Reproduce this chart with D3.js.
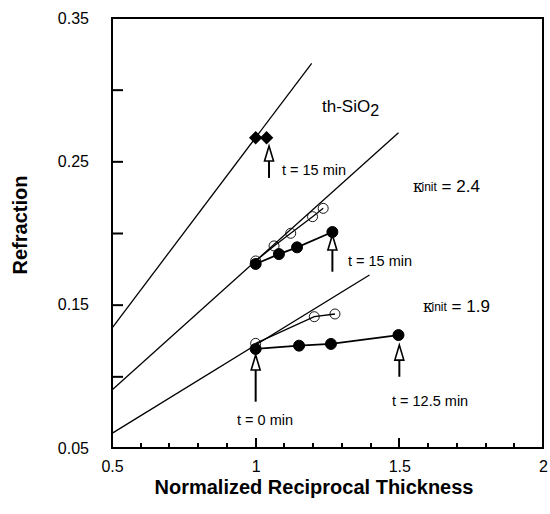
<!DOCTYPE html>
<html>
<head>
<meta charset="utf-8">
<script src="https://cdn.jsdelivr.net/npm/d3@7"></script>
<style>
  body { margin: 0; background: #fff; }
  svg { font-family: "Liberation Sans", Arial, sans-serif; }
</style>
</head>
<body>
<svg id="chart" width="550" height="514"></svg>
<script>
// fitted lines (endpoints)
const fitX = [[0.5, 1.195], [0.5, 1.497], [0.5, 1.396]];
const fitY = [[0.1337, 0.3184], [0.0905, 0.2700], [0.0602, 0.1707]];

// th-SiO2 diamonds
const diamondX = [1.0, 1.038];
const diamondY = [0.2665, 0.2665];

// kinit = 2.4
const midFilledX = [1.0, 1.081, 1.144, 1.267];
const midFilledY = [0.1784, 0.1853, 0.1900, 0.2007];
const midOpenX = [1.0, 1.064, 1.122, 1.198, 1.235];
const midOpenY = [0.1805, 0.1910, 0.1998, 0.2114, 0.2172];

// kinit = 1.9
const lowFilledX = [1.0, 1.151, 1.262, 1.497];
const lowFilledY = [0.1191, 0.1214, 0.1226, 0.1288];
const lowOpenX = [1.0, 1.204, 1.276];
const lowOpenY = [0.1230, 0.1416, 0.1435];

// arrows: x, tip y, tail y
const arrowX = [1.0465, 1.267, 1.0, 1.5];
const arrowTip = [0.2607, 0.1986, 0.1149, 0.1218];
const arrowTail = [0.2384, 0.1730, 0.0823, 0.0997];

const xTicks = [0.5, 1, 1.5, 2];
const xMinor = [0.6, 0.7, 0.8, 0.9, 1, 1.1, 1.2, 1.3, 1.4, 1.5, 1.6, 1.7, 1.8, 1.9];
const yTicks = [0.05, 0.15, 0.25, 0.35];
const yMinor = [0.1, 0.15, 0.2, 0.25, 0.3];

const svg = d3.select('#chart');
const pLeft = 112, pTop = 18, pRight = 543, pBottom = 448;

const x = d3.scaleLinear().domain([0.5, 2]).range([pLeft, pRight]);
const y = d3.scaleLinear().domain([0.05, 0.35]).range([pBottom, pTop]);

// frame
svg.append('rect')
    .attr('x', pLeft).attr('y', pTop)
    .attr('width', pRight - pLeft).attr('height', pBottom - pTop)
    .attr('fill', 'none').attr('stroke', '#000').attr('stroke-width', 2);

// x ticks pointing inward, longer at 1 and 1.5
const xt = d3.path();
xMinor.forEach(d => {
    const len = (Math.abs(d - 1) < 1e-6 || Math.abs(d - 1.5) < 1e-6) ? 10 : 5;
    xt.moveTo(Math.round(x(d)), pBottom);
    xt.lineTo(Math.round(x(d)), pBottom - len);
});
svg.append('path')
    .attr('d', xt.toString())
    .attr('fill', 'none')
    .attr('stroke', '#000')
    .attr('stroke-width', 2);

svg.append('g')
    .attr('transform', `translate(0,${pBottom + 21})`)
    .call(d3.axisBottom(x).tickValues(xTicks).tickSize(0).tickFormat(d3.format('')))
    .call(g => g.select('.domain').remove())
    .call(g => g.selectAll('text').attr('font-size', 16).attr('font-family', 'Liberation Sans, Arial, sans-serif').attr('fill', '#000').attr('dy', 0));

// y ticks pointing inward
svg.append('g')
    .attr('transform', `translate(${pLeft},0)`)
    .call(d3.axisLeft(y).tickValues(yMinor).tickSize(-11).tickFormat(''))
    .call(g => g.select('.domain').remove())
    .call(g => g.selectAll('line').attr('stroke-width', 2));

svg.append('g')
    .attr('transform', `translate(${pLeft - 23},0)`)
    .call(d3.axisLeft(y).tickValues(yTicks).tickSize(0).tickFormat(d3.format('.2f')))
    .call(g => g.select('.domain').remove())
    .call(g => g.selectAll('text').attr('font-size', 16).attr('font-family', 'Liberation Sans, Arial, sans-serif').attr('fill', '#000').attr('x', 0));

// axis titles
svg.append('text')
    .attr('x', 314).attr('y', 494)
    .attr('text-anchor', 'middle')
    .attr('font-size', 20).attr('font-weight', 'bold')
    .text('Normalized Reciprocal Thickness');

svg.append('text')
    .attr('transform', 'translate(27,225) rotate(-90)')
    .attr('text-anchor', 'middle')
    .attr('font-size', 20).attr('font-weight', 'bold')
    .text('Refraction');

// fit lines
const line = d3.line().x(d => x(d[0])).y(d => y(d[1]));
fitX.forEach((xs, i) => {
    svg.append('path')
        .attr('d', line(xs.map((v, j) => [v, fitY[i][j]])))
        .attr('fill', 'none').attr('stroke', '#000').attr('stroke-width', 1.3);
});

function series(xs, ys, open) {
    const pts = xs.map((v, i) => [v, ys[i]]);
    svg.append('path')
        .attr('d', line(pts))
        .attr('fill', 'none').attr('stroke', '#000')
        .attr('stroke-width', open ? 1.3 : 1.8);
    svg.selectAll(null).data(pts).enter().append('circle')
        .attr('cx', d => x(d[0])).attr('cy', d => y(d[1]))
        .attr('r', open ? 5 : 5.5)
        .attr('fill', open ? 'none' : '#000')
        .attr('stroke', '#000').attr('stroke-width', open ? 0.9 : 1);
}
series(midOpenX, midOpenY, true);
series(midFilledX, midFilledY, false);
series(lowOpenX, lowOpenY, true);
series(lowFilledX, lowFilledY, false);

// diamonds
svg.selectAll(null).data(diamondX).enter().append('path')
    .attr('d', d3.symbol().type(d3.symbolSquare).size(90))
    .attr('transform', (d, i) => `translate(${x(d)},${y(diamondY[i])}) rotate(45)`)
    .attr('fill', '#000');

// arrows with hollow heads
arrowX.forEach((ax, i) => {
    const px = x(ax), tip = y(arrowTip[i]), tail = y(arrowTail[i]);
    const headH = 15, headW = 4.5;
    svg.append('line')
        .attr('x1', px).attr('x2', px)
        .attr('y1', tip + headH).attr('y2', tail)
        .attr('stroke', '#000').attr('stroke-width', 2);
    svg.append('path')
        .attr('d', `M${px},${tip} L${px - headW},${tip + headH} L${px + headW},${tip + headH} Z`)
        .attr('fill', '#fff').attr('stroke', '#000').attr('stroke-width', 1.6);
});

// annotations
const note = (px, py, txt) => svg.append('text')
    .attr('x', px).attr('y', py).attr('font-size', 14.5).text(txt);
note(282, 175, 't = 15 min');
note(348, 266, 't = 15 min');
note(237, 425, 't = 0 min');
note(392, 406, 't = 12.5 min');

const siO2 = svg.append('text').attr('x', 322).attr('y', 112).attr('font-size', 17);
siO2.append('tspan').text('th-SiO');
siO2.append('tspan').attr('font-size', 16).attr('dy', 4).text('2');

function kappa(px, py, val) {
    const t = svg.append('text').attr('x', px).attr('y', py).attr('font-size', 17);
    t.append('tspan').attr('font-family', 'DejaVu Serif, serif').attr('font-size', 16).text('κ');
    t.append('tspan').attr('font-size', 12).attr('dx', -1.5).attr('dy', -1).text('init');
    t.append('tspan').attr('dy', 1).text(' = ' + val);
}
kappa(413, 192, '2.4');
kappa(423, 312, '1.9');
</script>
</body>
</html>
